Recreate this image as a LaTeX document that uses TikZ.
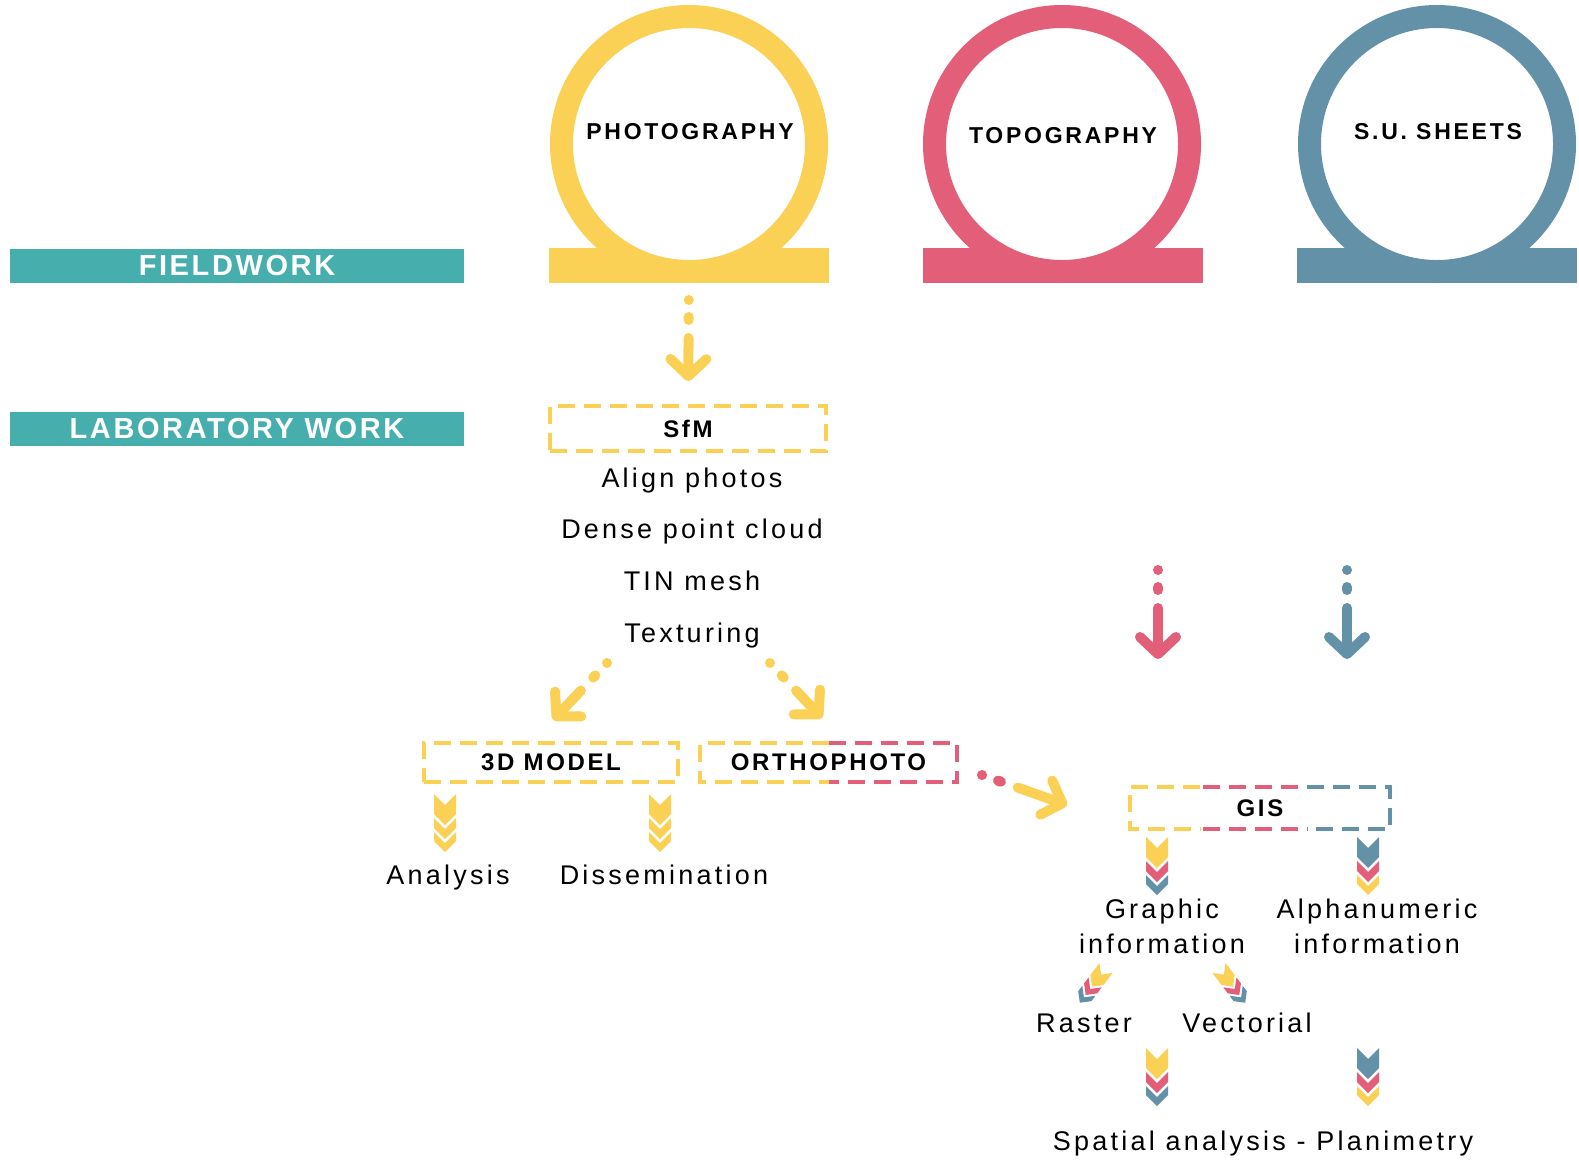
\documentclass[tikz,border=0pt]{standalone}
\usepackage{fontspec}
\setmainfont{Liberation Sans}
\usepackage{tikz}
\usetikzlibrary{arrows.meta, calc}

\definecolor{cY}{HTML}{FAD055}
\definecolor{cP}{HTML}{E35E78}
\definecolor{cB}{HTML}{6391A8}
\definecolor{cT}{HTML}{47AEAE}

\tikzset{
  pics/chevs/.style n args={3}{code={
    \fill[#1] (-11,0) -- (0,11) -- (11,0) -- (11,20) -- (0,31) -- (-11,20) -- cycle;
    \fill[#2] (-11,24) -- (0,35) -- (11,24) -- (11,34) -- (0,45) -- (-11,34) -- cycle;
    \fill[#3] (-11,38) -- (0,49) -- (11,38) -- (11,47) -- (0,58) -- (-11,47) -- cycle;
  }}
}

\begin{document}
\begin{tikzpicture}[
  x=1pt, y=-1pt,
  body/.style={font=\fontsize{27}{35}\selectfont\addfontfeature{LetterSpace=12}, anchor=base, inner sep=0pt, align=center},
  ringlbl/.style={font=\fontsize{23}{27}\selectfont\bfseries\addfontfeature{LetterSpace=12}, anchor=base, inner sep=0pt},
  boxlbl/.style={font=\fontsize{24}{28}\selectfont\bfseries\addfontfeature{LetterSpace=11}},
  barlbl/.style={font=\fontsize{29}{33}\selectfont\bfseries\addfontfeature{LetterSpace=9}, text=white},
  band/.style={fill=cT, minimum width=454pt, minimum height=34pt, inner sep=0pt, outer sep=0pt},
  ring/.style={circle, draw=#1, line width=23pt, fill=white, minimum size=255pt, inner sep=0pt, outer sep=0pt},
  foot/.style={fill=#1, minimum width=280pt, minimum height=35pt, inner sep=0pt, outer sep=0pt},
  dbox/.style={draw=#1, line width=4pt, dash pattern=on 17pt off 9pt, inner sep=0pt, outer sep=0pt},
  arr/.style={#1, line width=10pt, line cap=round, dash pattern=on 0pt off 17pt on 3pt off 18pt on 600pt,
              -{Straight Barb[round, length=17pt, width=36pt]}},
  dots/.style={#1, line width=10pt, line cap=round, dash pattern=on 0pt off 17pt on 3pt off 600pt}
]
\useasboundingbox (0,0) rectangle (1579,1160);

\node[band, barlbl] (field) at (237,266) {FIELDWORK};
\node[band, barlbl] (lab)   at (237,429) {LABORATORY WORK};

\node[foot=cY] (photofoot) at (689,265.5) {};
\node[ring=cY] (photo)     at (689,144) {};
\node[ringlbl] (photolbl)  at (690,139) {PHOTOGRAPHY};

\node[foot=cP] (topofoot) at (1062.5,265.5) {};
\node[ring=cP] (topo)     at (1062,144) {};
\node[ringlbl] (topolbl)  at (1063,143) {TOPOGRAPHY};

\node[foot=cB] (sufoot) at (1437,265.5) {};
\node[ring=cB] (su)     at (1437,144) {};
\node[ringlbl] (sulbl)  at (1438,139) {S.U. SHEETS};

\node[dbox=cY, minimum width=276pt, minimum height=45pt, boxlbl] (sfm) at (688,428.5) {SfM};
\node[body] (align) at (692,487)   {Align photos};
\node[body] (dense) at (692,538.5) {Dense point cloud};
\node[body] (tin)   at (692,590)   {TIN mesh};
\node[body] (tex)   at (692,642)   {Texturing};

\node[dbox=cY, minimum width=254pt, minimum height=39pt, boxlbl] (model) at (551,762.5) {3D MODEL};
\node[minimum width=257pt, minimum height=39pt, inner sep=0pt, outer sep=0pt, boxlbl] (ortho) at (828.5,762.5) {ORTHOPHOTO};
\draw[dbox=cY] (ortho.north) -- (ortho.north west) -- (ortho.south west) -- (ortho.south);
\draw[dbox=cP] (ortho.north) -- (ortho.north east) -- (ortho.south east) -- (ortho.south);

\node[minimum width=260pt, minimum height=42pt, inner sep=0pt, outer sep=0pt, boxlbl] (gis) at (1260,808) {GIS};
\draw[dbox=cY] ($(gis.north west)!0.27!(gis.north east)$) -- (gis.north west) -- (gis.south west) -- ($(gis.south west)!0.27!(gis.south east)$);
\draw[dbox=cP] ($(gis.north west)!0.28!(gis.north east)$) -- ($(gis.north west)!0.67!(gis.north east)$);
\draw[dbox=cP] ($(gis.south west)!0.28!(gis.south east)$) -- ($(gis.south west)!0.67!(gis.south east)$);
\draw[dbox=cB] ($(gis.north west)!0.68!(gis.north east)$) -- (gis.north east) -- (gis.south east) -- ($(gis.south west)!0.68!(gis.south east)$);

\node[body] (analysis) at (448,884)  {Analysis};
\node[body] (dissem)   at (664,884)  {Dissemination};
\node[body] (graphic)  at (1162,953) {Graphic\\information};
\node[body] (alpha)    at (1377,953) {Alphanumeric\\information};
\node[body] (raster)   at (1084,1032) {Raster};
\node[body] (vector)   at (1247,1032) {Vectorial};
\node[body] (spatial)  at (1263,1150) {Spatial analysis - Planimetry};

\coordinate (ls) at (607,663);  \coordinate (le) at (553,720);
\coordinate (rs) at (770,663);  \coordinate (re) at (822,718);
\coordinate (os) at (982,775);  \coordinate (oe) at (1067,805);
\coordinate (ps) at (1158,570); \coordinate (pe) at (1158,659);
\coordinate (bs) at (1347,570); \coordinate (be) at (1347,659);

\draw[arr=cY, shorten <=17pt, shorten >=25pt] (photofoot) -- (sfm);
\draw[arr=cY] (ls) -- (le);
\draw[arr=cY] (rs) -- (re);
\draw[arr=cY] (os) -- (oe);
\draw[dots=cP] (os) -- (oe);
\draw[arr=cP] (ps) -- (pe);
\draw[arr=cB] (bs) -- (be);

\pic at (445,794) {chevs={cY}{cY}{cY}};
\pic at (660,794) {chevs={cY}{cY}{cY}};
\pic at (1157,837) {chevs={cY}{cP}{cB}};
\pic at (1368,837) {chevs={cB}{cP}{cY}};
\pic[rotate=-37, scale=0.75] at (1106,968) {chevs={cY}{cP}{cB}};
\pic[rotate=37, scale=0.75] at (1219,968) {chevs={cY}{cP}{cB}};
\pic at (1157,1048) {chevs={cY}{cP}{cB}};
\pic at (1368,1048) {chevs={cB}{cP}{cY}};

\end{tikzpicture}
\end{document}
